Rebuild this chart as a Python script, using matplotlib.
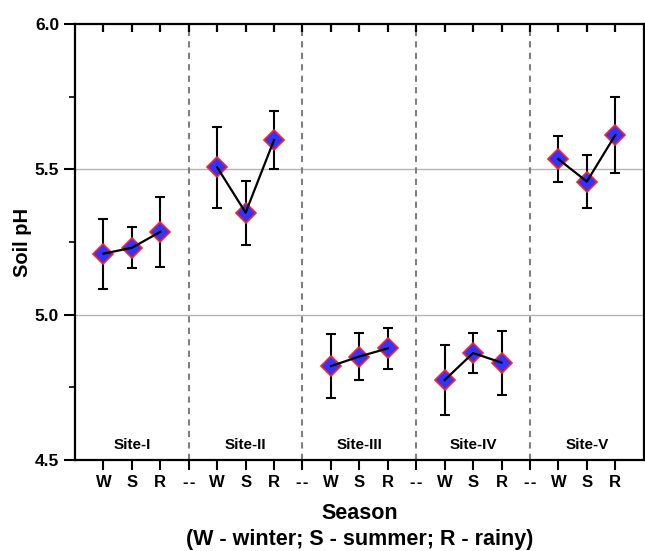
import numpy as np
import matplotlib
matplotlib.use('Agg')
import matplotlib.pyplot as plt

plt.rcParams['font.family'] = ['Liberation Sans', 'DejaVu Sans']
plt.rcParams['font.weight'] = 'bold'

# 数据
sites = ['Site-I', 'Site-II', 'Site-III', 'Site-IV', 'Site-V']
seasons = ['W', 'S', 'R']
ph_mean = [[5.21, 5.23, 5.285],
           [5.507, 5.351, 5.601],
           [4.823, 4.856, 4.884],
           [4.775, 4.868, 4.835],
           [5.535, 5.458, 5.618]]
ph_err = [[0.12, 0.07, 0.12],
          [0.14, 0.11, 0.10],
          [0.11, 0.08, 0.07],
          [0.12, 0.07, 0.11],
          [0.08, 0.09, 0.13]]
tick_labels = ['W', 'S', 'R', '-\u200a-'] * 4 + ['W', 'S', 'R']
xticks = np.arange(1, len(tick_labels) + 1)

fig = plt.figure(figsize=(6.45, 5.51), dpi=100)
ax = fig.add_axes([0.1163, 0.1652, 0.8817, 0.7912])

for i in range(len(sites)):
    x = np.arange(3) + 1 + 4 * i
    ax.errorbar(x, ph_mean[i], yerr=ph_err[i], fmt='none', ecolor='black',
                elinewidth=1.5, capsize=3.6, capthick=1.5, zorder=3)
    ax.plot(x, ph_mean[i], 'D', ms=10.5, mfc='#3333ff', mec='#ff2020', mew=1.2, zorder=4)
    ax.plot(x, ph_mean[i], '-', color='black', lw=1.6, zorder=5)
    ax.text(x[1], 4.552, sites[i], ha='center', va='center', fontsize=11, fontweight='bold')
    if i < len(sites) - 1:
        ax.axvline(4 * (i + 1), color='#808080', ls=(0, (3, 2.5)), lw=1.5, zorder=1)

for yv in [5.0, 5.5]:
    ax.axhline(yv, color='#b4b4b4', lw=1, zorder=0)

ax.set_xlim(0, 20)
ax.set_ylim(4.5, 6.0)
ax.set_xticks(xticks)
ax.set_xticklabels(tick_labels, fontsize=12, fontweight='bold')
ax.set_yticks([4.5, 5.0, 5.5, 6.0])
ax.set_yticks([4.75, 5.25, 5.75], minor=True)
ax.set_yticklabels(['4.5', '5.0', '5.5', '6.0'], fontsize=12.5, fontweight='bold')
ax.tick_params(axis='x', which='major', direction='out', length=7, width=1.5, pad=4)
ax.tick_params(axis='y', which='major', direction='out', length=8, width=1.5, right=False)
ax.tick_params(axis='y', which='minor', direction='out', length=4, width=1.2, right=False)
for s in ax.spines.values():
    s.set_linewidth(1.6)

# 上边的刻度朝内
ax.vlines(xticks, 0.982, 1.0, transform=ax.get_xaxis_transform(), color='black',
          lw=1.6, clip_on=False, zorder=6)

ax.set_xlabel('Season\n(W - winter; S - summer; R - rainy)', fontsize=15.5,
              fontweight='bold', linespacing=1.3, labelpad=9)
ax.set_ylabel('Soil pH', fontsize=14.5, fontweight='bold', labelpad=2)

fig.savefig('out.png', dpi=100)
